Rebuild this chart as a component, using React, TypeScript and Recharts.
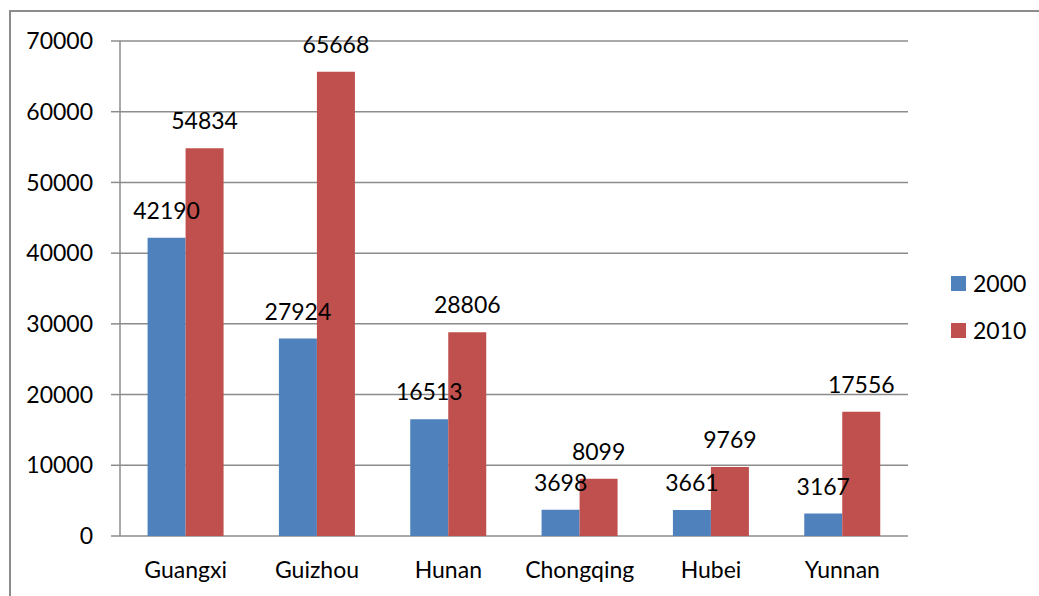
import React from 'react';
import { BarChart, Bar, XAxis, YAxis, CartesianGrid, LabelList } from 'recharts';

const provinces = ['Guangxi', 'Guizhou', 'Hunan', 'Chongqing', 'Hubei', 'Yunnan'];
const values2000 = [42190, 27924, 16513, 3698, 3661, 3167];
const values2010 = [54834, 65668, 28806, 8099, 9769, 17556];
const yTicks = [0, 10000, 20000, 30000, 40000, 50000, 60000, 70000];
const edgeTicks = [0, 1, 2, 3, 4, 5, 6];

const series = [
  { key: 'y2000', name: '2000', color: '#4f81bd' },
  { key: 'y2010', name: '2010', color: '#c0504d' },
];

const data = provinces.map((name, i) => ({
  name,
  y2000: values2000[i],
  y2010: values2010[i],
}));

const FONT = 'Lato, "Open Sans", sans-serif';
const GRID = '#8c8c8c';

const App: React.FC = () => (
  <div style={{ position: 'absolute', left: 0, top: 0, width: 1039, height: 596, overflow: 'hidden', background: '#fff', fontFamily: FONT }}>
    {/* chart frame */}
    <div style={{ position: 'absolute', left: 9, top: 10, width: 1100, height: 700, borderLeft: `2px solid ${GRID}`, borderTop: `2px solid ${GRID}` }} />

    <BarChart
      width={1039}
      height={596}
      data={data}
      margin={{ top: 41, right: 131, left: 0, bottom: 0 }}
      barCategoryGap="21%"
      barGap={0}
      style={{ position: 'absolute', left: 0, top: 0 }}
    >
      <CartesianGrid horizontal vertical={false} stroke={GRID} strokeWidth={1.5} />
      {/* category boundary ticks along the bottom */}
      <XAxis
        xAxisId="edges"
        type="number"
        domain={[0, 6]}
        ticks={edgeTicks}
        height={0}
        tick={false}
        tickSize={8}
        stroke={GRID}
        strokeWidth={1.5}
        allowDataOverflow
      />
      <XAxis
        dataKey="name"
        height={60}
        axisLine={false}
        tickLine={false}
        tickSize={0}
        tickMargin={26}
        tick={{ fill: '#000', fontSize: 23, fontFamily: FONT }}
        interval={0}
      />
      <YAxis
        width={120}
        domain={[0, 70000]}
        ticks={yTicks}
        tickSize={9}
        tickMargin={18}
        stroke={GRID}
        strokeWidth={1.5}
        tick={{ fill: '#000', fontSize: 23, fontFamily: FONT }}
      />
      {series.map(s => (
        <Bar key={s.key} dataKey={s.key} name={s.name} fill={s.color} isAnimationActive={false}>
          <LabelList dataKey={s.key} position="top" offset={19} fill="#000" fontSize={23} fontFamily={FONT} />
        </Bar>
      ))}
    </BarChart>

    {/* legend */}
    <div style={{ position: 'absolute', left: 951, top: 270 }}>
      {series.map(s => (
        <div key={s.key} style={{ display: 'flex', alignItems: 'center', height: 26, marginBottom: 21, fontSize: 23, color: '#000' }}>
          <span style={{ width: 15, height: 15, background: s.color, marginRight: 7, display: 'inline-block' }} />
          <span>{s.name}</span>
        </div>
      ))}
    </div>
  </div>
);

export default App;
